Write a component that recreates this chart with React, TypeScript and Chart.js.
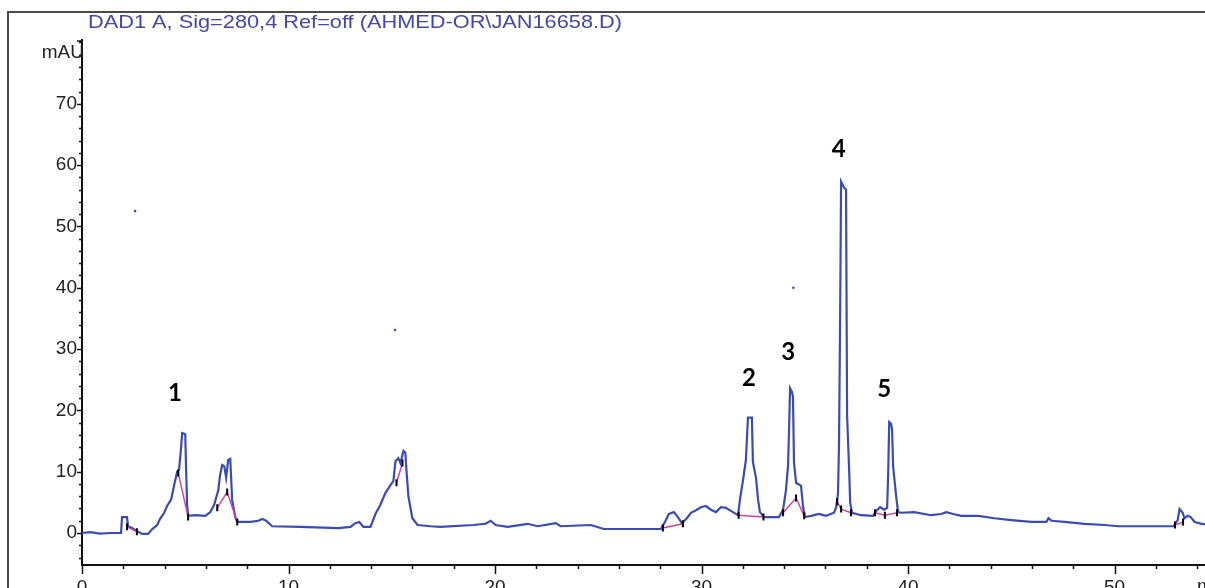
import { useEffect, useRef } from 'react';
import { Chart, registerables } from 'chart.js';

Chart.register(...registerables);

const FONT = "'Liberation Sans', Arial, sans-serif";

// Chromatogram trace (retention time in min, absorbance in mAU)
const times = [
  0, 0.39, 0.87, 1.36, 1.84, 1.89, 1.94, 2.18, 2.23, 2.42,
  2.67, 2.91, 3.2, 3.39, 3.64, 3.78, 3.98, 4.12, 4.32, 4.46,
  4.61, 4.7, 4.8, 4.85, 5.0, 5.04, 5.09, 5.14, 5.48, 5.97,
  6.21, 6.4, 6.6, 6.69, 6.79, 6.89, 6.98, 7.08, 7.18, 7.27,
  7.42, 7.52, 8.15, 8.54, 8.73, 8.92, 9.21, 10.57, 12.42, 13.0,
  13.24, 13.43, 13.63, 13.97, 14.21, 14.45, 14.69, 14.94, 15.08, 15.18,
  15.32, 15.42, 15.57, 15.66, 15.71, 15.81, 16.0, 16.25, 16.88, 17.36,
  18.96, 19.54, 19.79, 20.03, 20.61, 21.58, 22.07, 22.94, 23.18, 24.64,
  25.27, 28.03, 28.23, 28.42, 28.66, 28.86, 29.05, 29.29, 29.49, 29.73,
  29.97, 30.21, 30.46, 30.7, 30.94, 31.18, 31.52, 31.77, 31.86, 32.01,
  32.15, 32.25, 32.44, 32.49, 32.64, 32.74, 32.83, 33.03, 33.75, 33.95,
  34.09, 34.19, 34.24, 34.29, 34.38, 34.43, 34.48, 34.58, 34.68, 34.82,
  34.92, 35.01, 35.31, 35.69, 36.03, 36.42, 36.52, 36.61, 36.66, 36.71,
  36.76, 36.91, 37.0, 37.05, 37.15, 37.2, 37.29, 37.73, 38.31, 38.46,
  38.65, 38.85, 38.99, 39.04, 39.09, 39.18, 39.23, 39.28, 39.43, 39.52,
  39.67, 40.3, 41.12, 41.61, 41.85, 42.19, 42.58, 43.4, 44.18, 45.0,
  45.97, 46.7, 46.8, 46.95, 47.58, 48.55, 49.52, 50.2, 52.86, 53.06,
  53.15, 53.3, 53.39, 53.54, 53.69, 53.88, 54.22, 54.7, 55,
];

const signal = [
  0.0, 0.15, -0.1, 0.0, 0.0, 0.0, 2.6, 2.6, 1.1, 0.8,
  0.3, -0.15, -0.15, 0.6, 1.3, 2.3, 3.3, 4.4, 5.5, 7.8,
  10.0, 10.3, 14.0, 16.3, 16.1, 10.6, 4.6, 2.8, 2.9, 2.8,
  3.4, 4.6, 7.0, 9.5, 11.1, 10.9, 9.0, 11.9, 12.1, 5.4,
  2.6, 1.8, 1.8, 2.0, 2.3, 2.0, 1.1, 1.0, 0.8, 1.0,
  1.6, 1.8, 1.0, 1.0, 3.1, 4.6, 6.5, 7.8, 8.5, 11.7,
  12.2, 11.4, 13.4, 13.1, 10.3, 5.9, 2.4, 1.3, 1.1, 1.0,
  1.3, 1.5, 2.0, 1.3, 1.0, 1.5, 1.1, 1.6, 1.1, 1.3,
  0.65, 0.65, 1.8, 3.1, 3.4, 2.6, 1.6, 2.4, 3.3, 3.7,
  4.2, 4.4, 3.8, 3.4, 4.2, 4.1, 3.4, 2.9, 5.4, 8.6,
  11.9, 18.8, 18.8, 11.6, 9.0, 5.4, 3.4, 2.6, 2.6, 3.8,
  7.0, 10.9, 16.8, 23.6, 23.0, 22.2, 11.4, 8.2, 8.0, 7.7,
  4.2, 2.6, 2.8, 3.1, 2.8, 3.3, 4.2, 6.4, 14.7, 33.9,
  57.3, 56.3, 56.0, 19.2, 10.3, 4.9, 3.3, 2.9, 2.8, 3.6,
  4.2, 3.8, 4.1, 9.5, 18.1, 17.8, 16.8, 10.8, 5.9, 3.4,
  3.3, 3.4, 2.9, 3.1, 3.4, 3.1, 2.8, 2.8, 2.4, 2.1,
  1.8, 1.8, 2.4, 2.0, 1.8, 1.5, 1.3, 1.1, 1.1, 2.1,
  3.9, 3.3, 2.4, 2.8, 2.6, 1.8, 1.5, 1.3, 1.3,
];

// Integration baselines (null separates peaks)
const baselineTimes = [
  2.18, 2.66, null,
  4.66, 5.14, null,
  6.55, 7.03, 7.52, null,
  15.23, 15.52, null,
  28.13, 29.1, null,
  31.8, 33.0, null,
  33.95, 34.58, 34.97, null,
  36.57, 36.76, 37.24, null,
  38.4, 38.88, 39.47, null,
  52.93, 53.32,
];
const baselineValues = [
  1.0, 0.2, null,
  9.8, 2.6, null,
  4.1, 6.7, 1.8, null,
  8.2, 11.4, null,
  0.8, 1.5, null,
  2.9, 2.6, null,
  3.3, 5.7, 2.8, null,
  5.1, 3.9, 3.3, null,
  3.3, 2.9, 3.3, null,
  1.3, 1.8,
];

// Stray points
const dotTimes = [2.57, 15.16, 34.45];
const dotValues = [52.5, 33.1, 40.0];

// Peak labels
const peakLabels = ['1', '2', '3', '4', '5'];
const peakLabelTimes = [4.5, 32.3, 34.2, 36.65, 38.85];
const peakLabelValues = [22.8, 25.3, 29.4, 62.5, 23.5];

// Axis ticks
const xMinorTicks = Array.from({ length: 28 }, (_, i) => i * 2);
const yMinorTicks = Array.from({ length: 43 }, (_, i) => -4 + i * 2);
const xMajor = [0, 10, 20, 30, 40, 50];
const yMajor = [0, 10, 20, 30, 40, 50, 60, 70];

const TITLE = 'DAD1 A, Sig=280,4 Ref=off (AHMED-OR\\JAN16658.D)';
const Y_UNIT = 'mAU';
const X_UNIT = 'min';

const X_MIN = 0;
const X_MAX = 55;
const Y_MIN = -5.22;
const Y_MAX = 80.4;

const decorPlugin = {
  id: 'decor',
  beforeDraw(chart: any) {
    const { ctx } = chart;
    ctx.save();
    ctx.fillStyle = '#fff';
    ctx.fillRect(0, 0, chart.width, chart.height);
    ctx.strokeStyle = '#4a4a4a';
    ctx.lineWidth = 2;
    ctx.strokeRect(8, 12, 3000, 3000);
    ctx.restore();
  },
  afterDraw(chart: any) {
    const { ctx, chartArea } = chart;
    const x = chart.scales.x;
    const y = chart.scales.y;
    ctx.save();
    ctx.strokeStyle = '#111';
    ctx.lineWidth = 1.5;
    ctx.beginPath();
    xMinorTicks.forEach((v) => {
      const px = Math.round(x.getPixelForValue(v)) + 0.5;
      const len = xMajor.includes(v) ? 9 : 4;
      ctx.moveTo(px, chartArea.bottom);
      ctx.lineTo(px, chartArea.bottom + len);
    });
    yMinorTicks.forEach((v) => {
      const py = Math.round(y.getPixelForValue(v)) + 0.5;
      const len = yMajor.includes(v) ? 5 : 3;
      ctx.moveTo(chartArea.left, py);
      ctx.lineTo(chartArea.left - len, py);
    });
    const topY = y.getPixelForValue(Y_MAX) + 1;
    ctx.moveTo(chartArea.left, topY);
    ctx.lineTo(chartArea.left - 5, topY);
    ctx.stroke();

    ctx.fillStyle = '#222';
    ctx.font = `19px ${FONT}`;
    ctx.textAlign = 'right';
    ctx.textBaseline = 'middle';
    ctx.fillText(Y_UNIT, chartArea.left + 2, 53);
    ctx.textAlign = 'left';
    ctx.textBaseline = 'top';
    ctx.fillText(X_UNIT, 1197, chartArea.bottom + 12);

    // title: 18px glyphs stretched horizontally to span the reference width
    ctx.save();
    ctx.fillStyle = '#4646a8';
    ctx.font = `18px ${FONT}`;
    ctx.textBaseline = 'middle';
    ctx.textAlign = 'left';
    const w = ctx.measureText(TITLE).width;
    const sx = 534 / w;
    ctx.translate(88, 23);
    ctx.scale(sx, 1);
    ctx.fillText(TITLE, 0, 0);
    ctx.restore();

    ctx.fillStyle = '#000';
    ctx.font = `bold 24px Lato, ${FONT}`;
    ctx.textAlign = 'center';
    ctx.textBaseline = 'middle';
    peakLabels.forEach((lab, i) => {
      ctx.fillText(lab, x.getPixelForValue(peakLabelTimes[i]), y.getPixelForValue(peakLabelValues[i]));
    });
    ctx.restore();
  },
};

export default function App() {
  const ref = useRef<HTMLCanvasElement>(null);
  useEffect(() => {
    const trace = times.map((t, i) => ({ x: t, y: signal[i] }));
    const baseline = baselineTimes.map((t, i) => ({ x: t, y: baselineValues[i] }));
    const dots = dotTimes.map((t, i) => ({ x: t, y: dotValues[i] }));
    const chart = new Chart(ref.current as HTMLCanvasElement, {
      type: 'line',
      data: {
        datasets: [
          {
            data: baseline as any,
            borderColor: '#c8479c',
            borderWidth: 1.5,
            pointStyle: 'line',
            pointRadius: 3.5,
            pointRotation: 90,
            pointBorderColor: '#000',
            pointBorderWidth: 2,
            pointHoverRadius: 0,
            spanGaps: false,
            tension: 0,
          },
          {
            data: dots as any,
            showLine: false,
            pointRadius: 1.3,
            pointBackgroundColor: '#3b4cb0',
            pointBorderWidth: 0,
          },
          {
            data: trace as any,
            borderColor: '#3b4cb0',
            borderWidth: 2.2,
            pointRadius: 0,
            tension: 0,
            borderJoinStyle: 'miter',
          },
        ],
      },
      options: {
        responsive: false,
        animation: false,
        devicePixelRatio: 1,
        layout: { padding: { top: 40, right: 1240 - (82 + 55 * 20.65), left: 0, bottom: 0 } },
        plugins: { legend: { display: false }, title: { display: false }, tooltip: { enabled: false } },
        events: [],
        scales: {
          x: {
            type: 'linear',
            min: X_MIN,
            max: X_MAX,
            grid: { display: false, drawTicks: false },
            border: { display: true, color: '#111', width: 2 },
            afterFit: (s: any) => { s.height = 35; },
            ticks: {
              stepSize: 2,
              autoSkip: false,
              maxRotation: 0,
              minRotation: 0,
              padding: 11,
              color: '#222',
              font: { family: FONT, size: 19 },
              callback: (v: any) => (xMajor.includes(Number(v)) ? String(v) : ''),
            },
          },
          y: {
            type: 'linear',
            min: Y_MIN,
            max: Y_MAX,
            grid: { display: false, drawTicks: false },
            border: { display: true, color: '#111', width: 2 },
            afterFit: (s: any) => { s.width = 82; },
            ticks: {
              stepSize: 2,
              autoSkip: false,
              padding: 5,
              color: '#222',
              font: { family: FONT, size: 19 },
              callback: (v: any) => {
                const n = Math.round(Number(v) * 1000) / 1000;
                return yMajor.includes(n) ? String(n) : '';
              },
            },
          },
        },
      },
      plugins: [decorPlugin],
    });
    return () => chart.destroy();
  }, []);
  return (
    <div style={{ position: 'fixed', left: 0, top: 0, width: 1205, height: 588, overflow: 'hidden', background: '#fff' }}>
      <canvas ref={ref} width={1240} height={600} style={{ position: 'absolute', left: 0, top: 0, width: 1240, height: 600 }} />
    </div>
  );
}
